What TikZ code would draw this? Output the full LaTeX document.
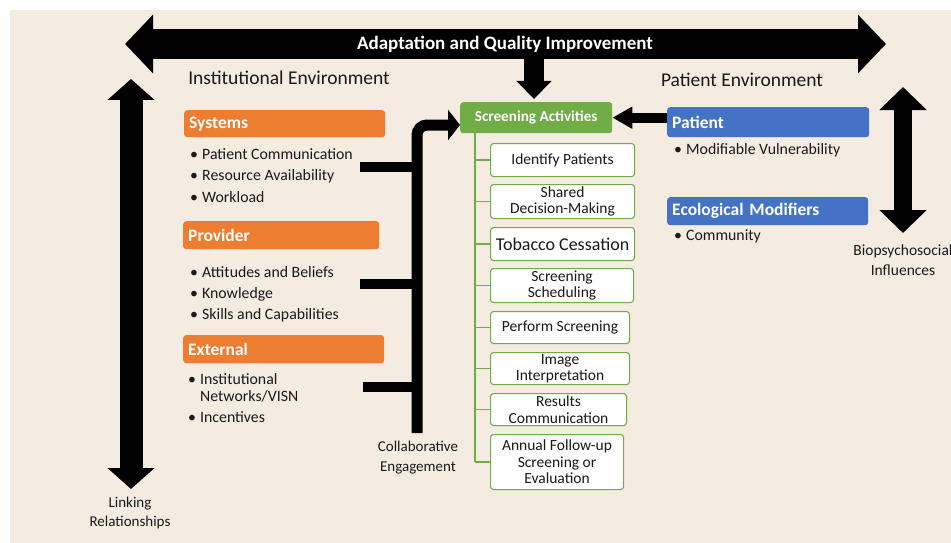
\documentclass[tikz,border=0pt]{standalone}
\usepackage{fontspec}
\setmainfont{Carlito}
\usetikzlibrary{arrows.meta}
\definecolor{cream}{RGB}{244,236,225}
\definecolor{orng}{RGB}{237,125,49}
\definecolor{grn}{RGB}{112,173,71}
\definecolor{blu}{RGB}{68,114,196}
\definecolor{txt}{RGB}{25,25,25}
\begin{document}
\begin{tikzpicture}[x=1pt,y=-1pt,
  hdr/.style={fill=#1, rounded corners=3pt, text=white, font=\fontsize{17.5}{20}\selectfont\bfseries, anchor=north west, inner xsep=5pt, inner ysep=0pt, align=left},
  item/.style={anchor=base west, inner sep=0pt, text=txt, font=\fontsize{15.8}{18}\selectfont},
  label/.style={inner sep=0pt, text=txt, align=center},
  actbox/.style={draw=grn, line width=1.1pt, fill=white, rounded corners=3pt, anchor=north west, align=center, inner sep=0pt, font=\fontsize{15.5}{16.5}\selectfont, text=txt},
  treeline/.style={draw=grn, line width=1.3pt},
  blockarrow/.style={line width=#1},
  stub/.style={line width=10pt}
]
\useasboundingbox (0,0) rectangle (951,543);
\fill[white] (0,0) rectangle (951,543);
\fill[cream] (10,10) rectangle (951,543);

% top double arrow
\coordinate (qL) at (125,44);
\coordinate (qR) at (886,44);
\draw[blockarrow=30pt, {Triangle[width=57pt,length=28pt]}-{Triangle[width=57pt,length=28pt]}] (qL) -- (qR);
\node[text=white, inner sep=0pt, font=\fontsize{19}{22}\selectfont\bfseries] (aqi) at (505,44) {Adaptation and Quality Improvement};

% environment titles
\node[label, font=\fontsize{19.5}{22}\selectfont] (inst) at (289,78) {Institutional Environment};
\node[label, font=\fontsize{19.5}{22}\selectfont] (patenv) at (742,80) {Patient Environment};

% screening activities
\node[fill=grn, rounded corners=3pt, text=white, anchor=north west, minimum width=152pt, minimum height=31pt, inner sep=0pt, font=\fontsize{15.2}{17}\selectfont\bfseries] (screen) at (460,102) {Screening Activities};

% down arrow
\coordinate (dtop) at (534,58);
\draw[blockarrow=20pt, -{Triangle[width=34pt,length=18pt]}, shorten >=3pt] (dtop) -- (dtop |- screen.north);

% left vertical arrow
\coordinate (lT) at (131,79);
\coordinate (lB) at (131,489);
\draw[blockarrow=23pt, {Triangle[width=46pt,length=21pt]}-{Triangle[width=46pt,length=21pt]}] (lT) -- (lB);
\node[label, font=\fontsize{15}{19}\selectfont] (link) at (130,512.5) {Linking\\Relationships};

% right vertical arrow
\coordinate (rT) at (903,87);
\coordinate (rB) at (903,233);
\draw[blockarrow=18pt, {Triangle[width=46pt,length=23pt]}-{Triangle[width=46pt,length=23pt]}] (rT) -- (rB);
\node[label, font=\fontsize{15.5}{20}\selectfont] (bio) at (903,260) {Biopsychosocial\\Influences};

% orange headers
\node[hdr=orng, text width=191pt, minimum height=27pt] (sys) at (184,110) {Systems};
\node[hdr=orng, text width=186pt, minimum height=28pt] (prov) at (183,221) {Provider};
\node[hdr=orng, text width=191pt, minimum height=28pt] (ext) at (183,335) {External};

% systems list
\node[item] (b1) at (190,159) {•};
\node[item] (t1) at (202,159) {Patient Communication};
\node[item] (b2) at (190,180) {•};
\node[item] (t2) at (202,180) {Resource Availability};
\node[item] (b3) at (190,202) {•};
\node[item] (t3) at (202,202) {Workload};
% provider list
\node[item] (b4) at (190,277) {•};
\node[item] (t4) at (202,277) {Attitudes and Beliefs};
\node[item] (b5) at (190,298) {•};
\node[item] (t5) at (202,298) {Knowledge};
\node[item] (b6) at (190,319) {•};
\node[item] (t6) at (202,319) {Skills and Capabilities};
% external list
\node[item] (b7) at (188,384) {•};
\node[item] (t7) at (200,384) {Institutional};
\node[item] (t7b) at (200,401) {Networks/VISN};
\node[item] (b8) at (188,422) {•};
\node[item] (t8) at (200,422) {Incentives};

% bracket
\coordinate (brBot) at (417,433);
\coordinate (brTop) at (417,125);
\draw[line width=11pt, rounded corners=10pt, -{Triangle[width=30pt,length=12pt]}] (brBot) -- (brTop) -- (screen.west |- brTop);
\coordinate (s1) at (360,167);
\coordinate (s2) at (360,284);
\coordinate (s3) at (363,387);
\draw[stub] (s1) -- (s1 -| brTop);
\draw[stub] (s2) -- (s2 -| brTop);
\draw[stub] (s3) -- (s3 -| brTop);
\node[label, font=\fontsize{15}{20}\selectfont] (collab) at (418,458) {Collaborative\\Engagement};

% blue boxes
\node[hdr=blu, text width=192pt, minimum height=30pt] (patient) at (667,107) {Patient};
\node[hdr=blu, text width=191pt, minimum height=28pt] (eco) at (667,197) {Ecological Modifiers};
\node[item] (b9) at (674,154) {•};
\node[item] (t9) at (686,154) {Modifiable Vulnerability};
\node[item] (b10) at (674,240) {•};
\node[item] (t10) at (686,240) {Community};

% patient -> screening arrow
\draw[line width=10pt, -{Triangle[width=21pt,length=20pt]}] (patient.west |- screen.east) -- (screen.east);

% activity boxes
\node[actbox, minimum width=144pt, minimum height=33pt] (a1) at (490,143) {Identify Patients};
\node[actbox, minimum width=144pt, minimum height=34pt] (a2) at (490,184) {Shared\\Decision-Making};
\node[actbox, minimum width=144pt, minimum height=33pt, font=\fontsize{18}{20}\selectfont] (a3) at (490,227) {Tobacco Cessation};
\node[actbox, minimum width=143pt, minimum height=34pt] (a4) at (490,268) {Screening\\Scheduling};
\node[actbox, minimum width=139pt, minimum height=32pt] (a5) at (490,311) {Perform Screening};
\node[actbox, minimum width=139pt, minimum height=32pt] (a6) at (490,352) {Image\\Interpretation};
\node[actbox, minimum width=136pt, minimum height=32pt] (a7) at (490,393) {Results\\Communication};
\node[actbox, minimum width=133pt, minimum height=55pt] (a8) at (490,434) {Annual Follow-up\\Screening or\\Evaluation};

% tree
\coordinate (tr) at (475,133);
\draw[treeline] (tr) -- (tr |- a8.west);
\foreach \b in {a1,a2,a3,a4,a5,a6,a7,a8}
  \draw[treeline] (tr |- \b.west) -- (\b.west);
\end{tikzpicture}
\end{document}
